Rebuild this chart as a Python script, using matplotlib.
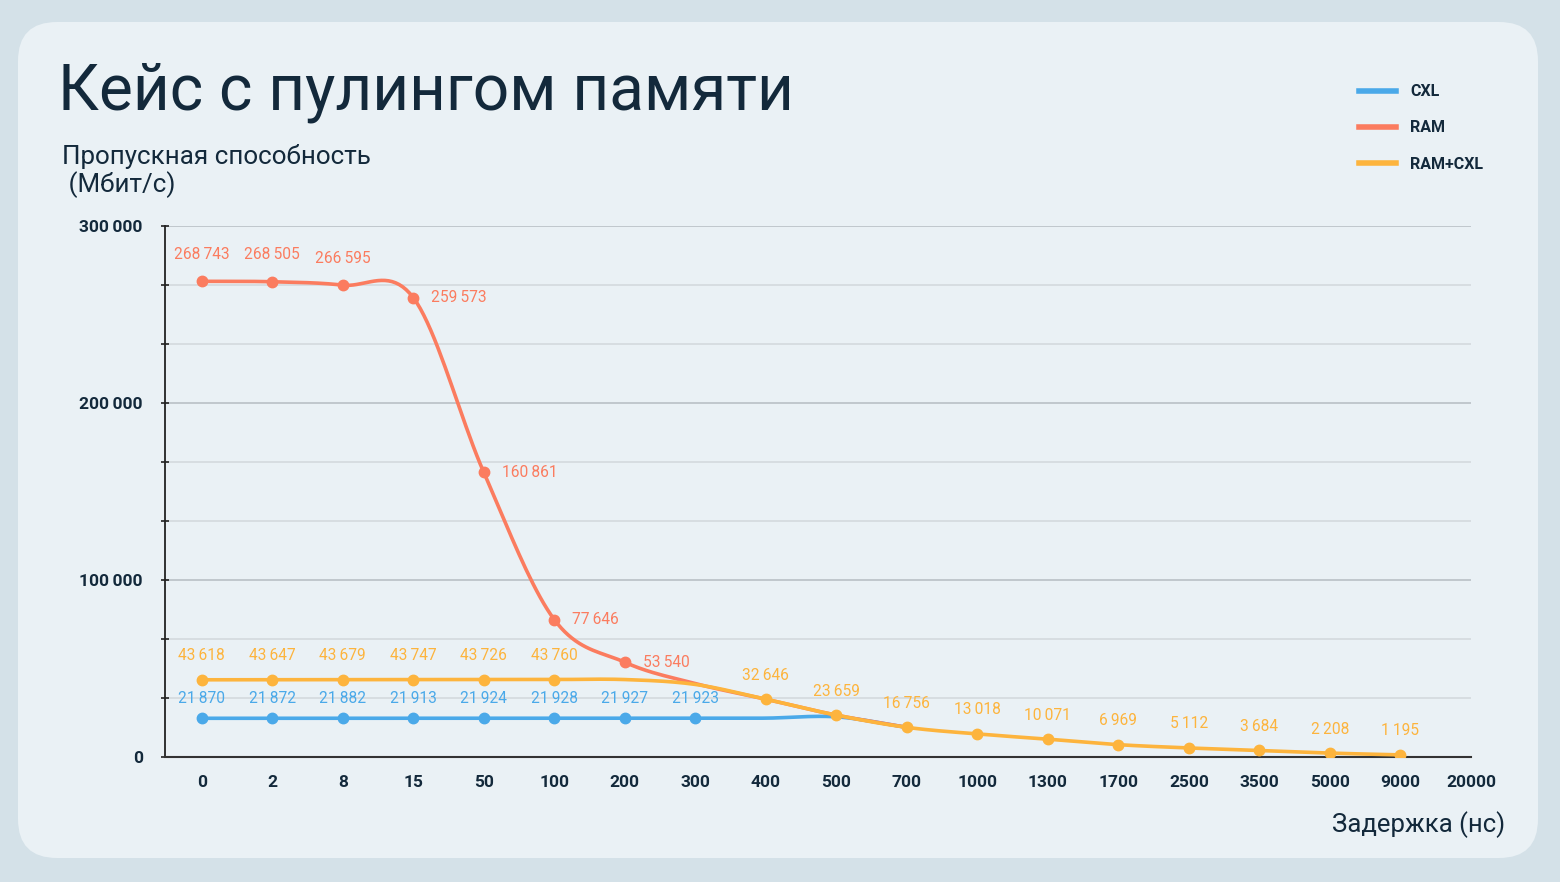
import numpy as np
import matplotlib
matplotlib.use("Agg")
import matplotlib.pyplot as plt
from matplotlib.patches import FancyBboxPatch
from matplotlib.lines import Line2D

plt.rcParams['font.family'] = ['Roboto', 'DejaVu Sans']

# latency categories (ns)
x_labels = ['0', '2', '8', '15', '50', '100', '200', '300', '400', '500', '700',
            '1000', '1300', '1700', '2500', '3500', '5000', '9000', '20000']

# labelled points (category index -> value)
cxl_idx = [0, 1, 2, 3, 4, 5, 6, 7]
cxl_vals = [21870, 21872, 21882, 21913, 21924, 21928, 21927, 21923]

ram_idx = [0, 1, 2, 3, 4, 5, 6]
ram_vals = [268743, 268505, 266595, 259573, 160861, 77646, 53540]

mix_idx = [0, 1, 2, 3, 4, 5, 8, 9, 10, 11, 12, 13, 14, 15, 16, 17]
mix_vals = [43618, 43647, 43679, 43747, 43726, 43760,
            32646, 23659, 16756, 13018, 10071, 6969, 5112, 3684, 2208, 1195]

# unlabelled line segments (where curves merge)
cxl_line_idx = cxl_idx + [8, 9, 10]
cxl_line_vals = cxl_vals + [21950, 22700, 16756]
ram_line_idx = ram_idx + [7, 8, 9, 10]
ram_line_vals = ram_vals + [41500, 32646, 23659, 16756]
mix_line_idx = [0, 1, 2, 3, 4, 5, 6, 7] + mix_idx[6:]
mix_line_vals = mix_vals[:6] + [43760, 41000] + mix_vals[6:]

C_CXL = '#4aa9e9'
C_RAM = '#fb7c5f'
C_MIX = '#fdb43d'
DARK = '#13293b'


def smooth(xs, ys, n=20):
    # Catmull-Rom curve through the points, for drawing only
    xs = np.asarray(xs, float)
    ys = np.asarray(ys, float)
    px = np.concatenate([[2 * xs[0] - xs[1]], xs, [2 * xs[-1] - xs[-2]]])
    py = np.concatenate([[2 * ys[0] - ys[1]], ys, [2 * ys[-1] - ys[-2]]])
    ox, oy = [], []
    t = np.linspace(0, 1, n, endpoint=False)
    for i in range(1, len(px) - 2):
        for p, out in ((px, ox), (py, oy)):
            p0, p1, p2, p3 = p[i - 1], p[i], p[i + 1], p[i + 2]
            out.extend(0.5 * (2 * p1 + (-p0 + p2) * t
                              + (2 * p0 - 5 * p1 + 4 * p2 - p3) * t ** 2
                              + (-p0 + 3 * p1 - 3 * p2 + p3) * t ** 3))
    ox.append(xs[-1])
    oy.append(ys[-1])
    return ox, oy


def fmt(v):
    return f"{v:,}".replace(",", "\u2009")


fig = plt.figure(figsize=(15.6, 8.82), dpi=100)
fig.patch.set_facecolor('#d4e1e8')
panel = FancyBboxPatch((18 / 1560, 1 - 858 / 882), (1538 - 18) / 1560, (858 - 22) / 882,
                       boxstyle="round,pad=0,rounding_size=0.025",
                       transform=fig.transFigure, facecolor='#eaf1f5',
                       edgecolor='none', zorder=-5, mutation_aspect=1560 / 882)
fig.patches.append(panel)

ax = fig.add_axes([165 / 1560, 1 - 757 / 882, (1471 - 165) / 1560, (757 - 226) / 882])
ax.set_facecolor('none')

# grid
for y in np.arange(0, 300001, 100000 / 3):
    major = abs(y / 100000 - round(y / 100000)) < 1e-6
    if y > 0:
        ax.axhline(y, color='#b9c0c5' if major else '#d4d9dd', lw=1.2, zorder=1)

ax.plot(*smooth(cxl_line_idx, cxl_line_vals), color=C_CXL, lw=2.6, zorder=3)
ax.plot(*smooth(ram_line_idx, ram_line_vals), color=C_RAM, lw=2.6, zorder=4)
ax.plot(*smooth(mix_line_idx, mix_line_vals), color=C_MIX, lw=2.6, zorder=5)
ax.plot(cxl_idx, cxl_vals, 'o', color=C_CXL, ms=7.5, zorder=6)
ax.plot(ram_idx, ram_vals, 'o', color=C_RAM, ms=7.5, zorder=6)
ax.plot(mix_idx, mix_vals, 'o', color=C_MIX, ms=7.5, zorder=6)

lab = dict(fontsize=11.2, zorder=7)
for i, v in zip(cxl_idx, cxl_vals):
    ax.annotate(fmt(v), (i, v), xytext=(0, 20), textcoords='offset pixels',
                ha='center', va='center', color=C_CXL, **lab)
for k, (i, v) in enumerate(zip(ram_idx, ram_vals)):
    if k < 3:
        ax.annotate(fmt(v), (i, v), xytext=(0, 27), textcoords='offset pixels',
                    ha='center', va='center', color=C_RAM, **lab)
    else:
        ax.annotate(fmt(v), (i, v), xytext=(18, 0), textcoords='offset pixels',
                    ha='left', va='center', color=C_RAM, **lab)
for i, v in zip(mix_idx, mix_vals):
    ax.annotate(fmt(v), (i, v), xytext=(0, 24), textcoords='offset pixels',
                ha='center', va='center', color=C_MIX, **lab)

ax.set_xlim(-0.52, 18.0)
ax.set_ylim(0, 300000)
ax.set_xticks(range(len(x_labels)))
ax.set_xticklabels(x_labels)
ax.set_yticks(np.arange(0, 300001, 100000 / 3))
ax.set_yticklabels([fmt(int(round(y))) if round(y) % 100000 == 0 else ''
                    for y in np.arange(0, 300001, 100000 / 3)])
ax.tick_params(axis='x', length=0, pad=13, labelsize=12.5, labelcolor=DARK)
ax.tick_params(axis='y', direction='inout', length=6, width=1.2, color='#222',
               pad=13, labelsize=12.5, labelcolor=DARK)
for t in ax.get_xticklabels() + ax.get_yticklabels():
    t.set_fontweight('bold')
    t.set_clip_on(False)
for s in ['top', 'right']:
    ax.spines[s].set_visible(False)
ax.spines['left'].set_color('#222')
ax.spines['left'].set_linewidth(1.3)
ax.spines['bottom'].set_color('#333')
ax.spines['bottom'].set_linewidth(1.5)

fig.text(58 / 1560, 1 - 92 / 882, 'Кейс с пулингом памяти', fontsize=46,
         fontweight='normal', color=DARK, va='center', ha='left')
fig.text(62 / 1560, 1 - 171 / 882, 'Пропускная способность\n (Мбит/с)', fontsize=18.7,
         color=DARK, va='center', ha='left', linespacing=1.1)
fig.text(1505 / 1560, 1 - 825 / 882, 'Задержка (нс)', fontsize=18.5,
         color=DARK, va='center', ha='right')

handles = [Line2D([], [], color=C_CXL, lw=4),
           Line2D([], [], color=C_RAM, lw=4),
           Line2D([], [], color=C_MIX, lw=4)]
leg = fig.legend(handles, ['CXL', 'RAM', 'RAM+CXL'], loc='upper left',
                 bbox_to_anchor=(1345 / 1560, 1 - 70 / 882), frameon=False,
                 fontsize=11.5, handlelength=2.3, handletextpad=0.9, labelspacing=1.32)
for t in leg.get_texts():
    t.set_color(DARK)
    t.set_fontweight('bold')

fig.savefig('out.png', dpi=100, facecolor=fig.get_facecolor())
